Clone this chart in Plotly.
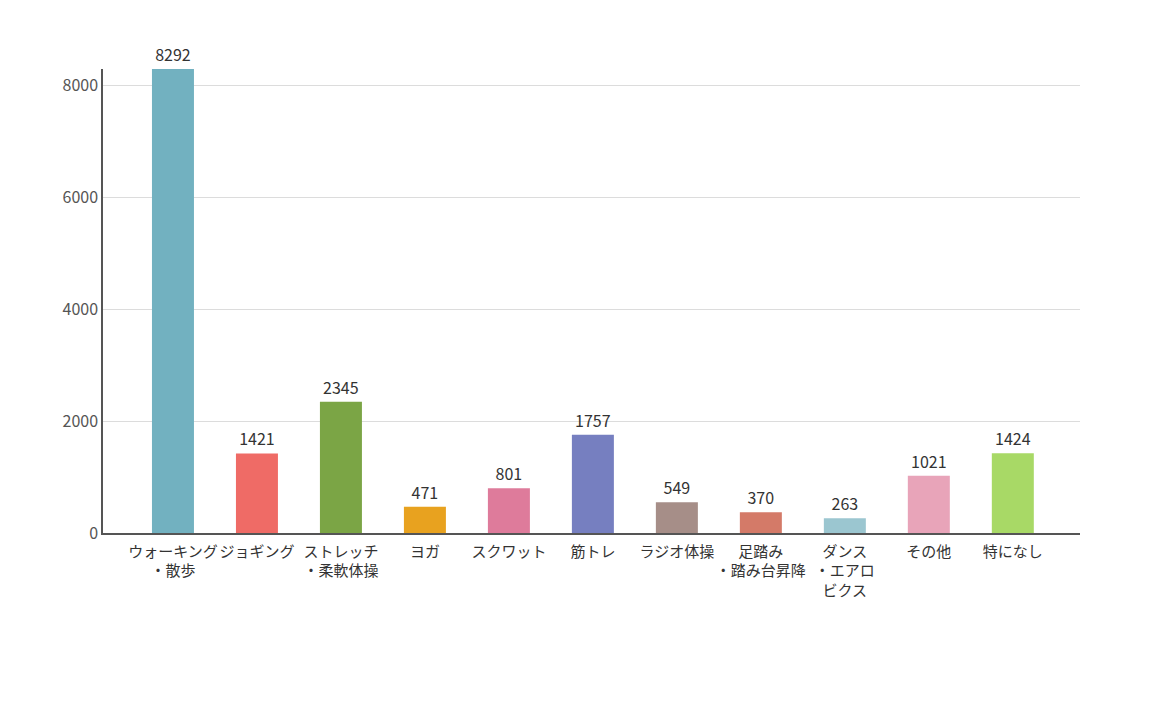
import plotly.graph_objects as go

categories = ["ウォーキング<br>・散歩", "ジョギング", "ストレッチ<br>・柔軟体操", "ヨガ", "スクワット", "筋トレ",
              "ラジオ体操", "足踏み<br>・踏み台昇降", "ダンス<br>・エアロ<br>ビクス", "その他", "特になし"]
values = [8292, 1421, 2345, 471, 801, 1757, 549, 370, 263, 1021, 1424]
colors = ["#72b1c0", "#ef6b66", "#7ba545", "#e8a21f", "#de7b9b", "#767fc0",
          "#a68e88", "#d47a68", "#9bc6d0", "#e8a4b9", "#a8d966"]
y_ticks = [0, 2000, 4000, 6000, 8000]

font_family = "Noto Sans CJK JP, Noto Sans, sans-serif"

fig = go.Figure(go.Bar(
    x=list(range(len(categories))),
    y=values,
    width=0.5,
    marker=dict(color=colors, line=dict(width=0)),
    text=[str(v) for v in values],
    textposition="outside",
    textfont=dict(size=16, color="#333333", family=font_family),
    cliponaxis=False,
))

fig.update_layout(
    width=1162, height=709,
    margin=dict(l=103, r=82, t=69, b=176),
    paper_bgcolor="white", plot_bgcolor="white",
    showlegend=False,
    bargap=0.5,
    font=dict(family=font_family),
)
fig.update_xaxes(
    range=[-0.833, 10.8],
    tickmode="array", tickvals=list(range(len(categories))), ticktext=categories,
    tickangle=0, ticklabelstandoff=4,
    tickfont=dict(size=15, color="#333333", family=font_family),
    showline=True, linecolor="#555555", linewidth=1.5,
    showgrid=False, ticks="", zeroline=False,
)
fig.update_yaxes(
    range=[0, 8292],
    tickmode="array", tickvals=y_ticks, ticktext=[str(t) for t in y_ticks],
    tickfont=dict(size=16, color="#555555", family=font_family),
    showline=True, linecolor="#555555", linewidth=1.5,
    showgrid=True, gridcolor="#dcdcdc", gridwidth=1,
    ticks="", zeroline=False,
)

fig.write_html("out.html")
